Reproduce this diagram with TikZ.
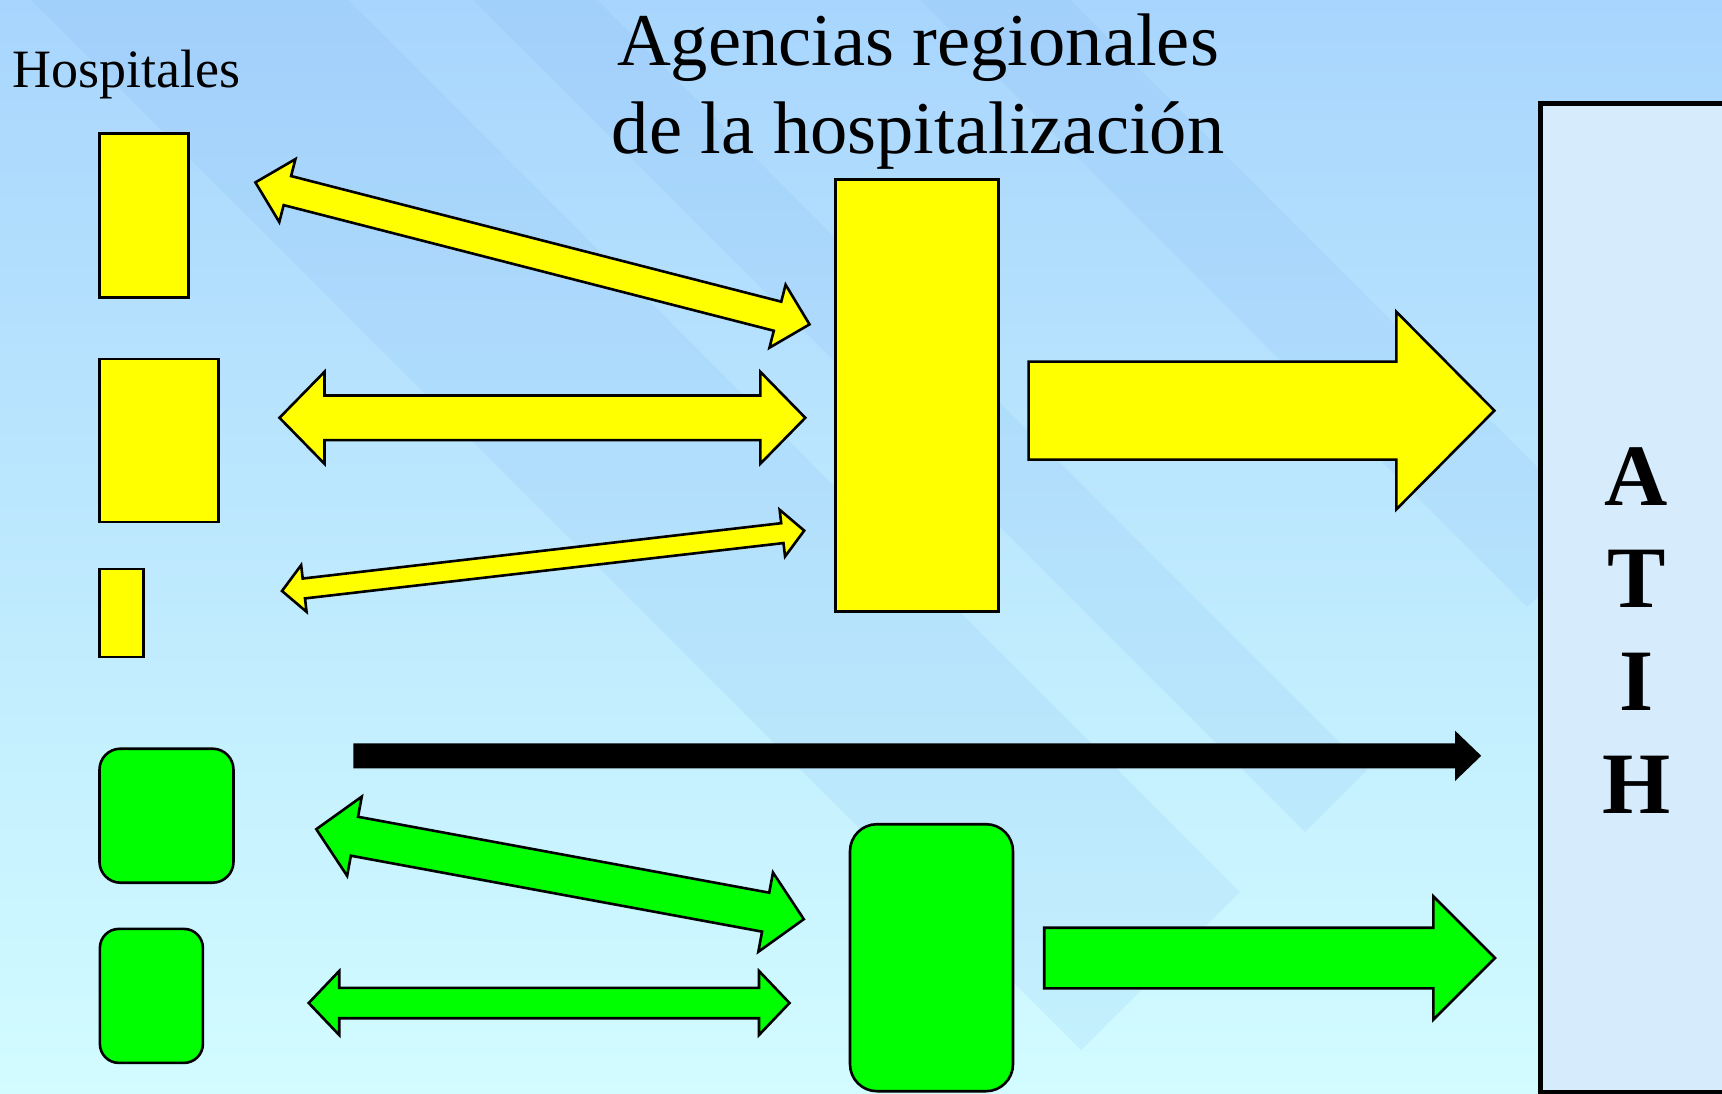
\documentclass[tikz,border=0pt]{standalone}
\usepackage{fontspec}
\setmainfont{Liberation Serif}
\usepackage{tikz}
\usetikzlibrary{calc}
\usetikzlibrary{positioning}
\definecolor{ciel}{RGB}{168,213,253}
\definecolor{glace}{RGB}{210,252,255}
\definecolor{boite}{RGB}{214,236,252}
\definecolor{bande}{RGB}{120,175,240}
\definecolor{jaune}{RGB}{255,255,0}
\definecolor{vert}{RGB}{0,255,0}
\tikzset{
    boxy/.style = {rectangle, draw=black, line width=2.6pt, fill=jaune, inner sep=0pt},
    boxg/.style = {rectangle, rounded corners=21pt, draw=black, line width=2.6pt, fill=vert, inner sep=0pt},
    boxatih/.style = {rectangle, draw=black, line width=5pt, fill=boite, inner sep=0pt},
    fatyel/.style = {draw=black, line width=2.6pt, fill=jaune},
    fatgrn/.style = {draw=black, line width=2.6pt, fill=vert},
    fatblk/.style = {draw=none, fill=black},
    bandd/.style = {fill=bande, fill opacity=0.13, draw=none}
}
% fat double arrow: style, from, to, shaft half, head half, head length
\newcommand{\fatdbl}[6]{%
  \draw[#1] (#2)
    -- ($(#2)!#6!(#3)!#5!90:(#3)$)
    -- ($(#2)!#6!(#3)!#4!90:(#3)$)
    -- ($(#3)!#6!(#2)!#4!-90:(#2)$)
    -- ($(#3)!#6!(#2)!#5!-90:(#2)$)
    -- (#3)
    -- ($(#3)!#6!(#2)!#5!90:(#2)$)
    -- ($(#3)!#6!(#2)!#4!90:(#2)$)
    -- ($(#2)!#6!(#3)!#4!-90:(#3)$)
    -- ($(#2)!#6!(#3)!#5!-90:(#3)$)
    -- cycle;}
% fat single arrow, same arguments
\newcommand{\fatone}[6]{%
  \draw[#1] ($(#2)!#4!90:(#3)$)
    -- ($(#3)!#6!(#2)!#4!-90:(#2)$)
    -- ($(#3)!#6!(#2)!#5!-90:(#2)$)
    -- (#3)
    -- ($(#3)!#6!(#2)!#5!90:(#2)$)
    -- ($(#3)!#6!(#2)!#4!90:(#2)$)
    -- ($(#2)!#4!-90:(#3)$)
    -- cycle;}

\begin{document}
\begin{tikzpicture}[x=1pt,y=-1pt]
\useasboundingbox (0,0) rectangle (1722,1094);
\shade[top color=ciel, bottom color=glace] (0,0) rectangle (1722,1094);
%
\fill[bandd] (31,0) -- (348,0) -- (1240,892) -- (1081,1050) -- cycle;
\fill[bandd] (473,0) -- (597,0) -- (1367,770) -- (1305,832) -- cycle;
\fill[bandd] (920,0) -- (1070,0) -- (1602,532) -- (1527,607) -- cycle;
%
\node[font=\fontsize{54}{60}\selectfont, anchor=base west, inner sep=0pt] at (12,88) (hosp) {Hospitales};
\node[font=\fontsize{74.5}{88.4}\selectfont, align=center, anchor=base, inner sep=0pt] at (918,154) (titre) {Agencias regionales\\de la hospitalización};
%
\node[boxy, minimum width=89pt, minimum height=164pt] at (144,215.7) (h1) {};
\node[boxy, minimum width=119pt, minimum height=163pt] at (159,440.5) (h2) {};
\node[boxy, minimum width=44pt, minimum height=88pt] at (121.5,613) (h3) {};
\node[boxg, minimum width=134pt, minimum height=134pt] at (166.5,815.7) (g1) {};
\node[boxg, minimum width=103pt, minimum height=134pt, rounded corners=19pt] at (151.4,995.9) (g2) {};
\node[boxy, minimum width=163pt, minimum height=432pt] at (916.7,395.5) (arh) {};
\node[boxg, minimum width=163pt, minimum height=267pt, rounded corners=27pt] at (931.5,957.7) (arhv) {};
\node[boxatih, minimum width=193pt, minimum height=988.5pt] at (1636.5,597.75) (atih) {};
\node[font=\fontsize{87.6}{102.7}\selectfont\bfseries, align=center, anchor=base, inner sep=0pt] at (1636.5,813.3) (sigle) {A\\T\\I\\H};
%
\coordinate (y1l) at (255.4,182.4);
\coordinate (y1r) at (809.5,324.4);
\coordinate (y2l) at (279.5,417.8);
\coordinate (y2r) at (805.3,417.8);
\coordinate (y3l) at (282,591);
\coordinate (y3r) at (804.2,530.6);
\coordinate (g1l) at (316.3,829.2);
\coordinate (g1r) at (803.8,919.2);
\coordinate (g2l) at (308.7,1003);
\coordinate (g2r) at (789.5,1003);
\coordinate (yo) at (1028.6,410.6);
\coordinate (yt) at (1494.4,410.6);
\coordinate (go) at (1044.2,958);
\coordinate (gt) at (1495,958);
\coordinate (bo) at (353.3,755.8);
\coordinate (bt) at (1481.2,755.8);
%
\fatdbl{fatyel}{y1l}{y1r}{15pt}{32.5pt}{33pt}
\fatdbl{fatyel}{y2l}{y2r}{22.3pt}{46pt}{45pt}
\fatdbl{fatyel}{y3l}{y3r}{10pt}{23.5pt}{22pt}
\fatdbl{fatgrn}{g1l}{g1r}{19.8pt}{40.3pt}{38.8pt}
\fatdbl{fatgrn}{g2l}{g2r}{15.2pt}{32pt}{30.5pt}
\fatone{fatyel}{yo}{yt}{49pt}{98.7pt}{98pt}
\fatone{fatgrn}{go}{gt}{30.3pt}{61.6pt}{61.6pt}
\fatone{fatblk}{bo}{bt}{12.5pt}{25pt}{26pt}

\end{tikzpicture}
\end{document}
